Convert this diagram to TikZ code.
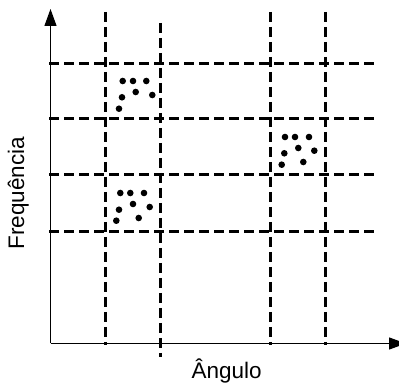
\documentclass[tikz,border=0pt]{standalone}
\usepackage{fontspec}
\setmainfont{Liberation Sans}
\usetikzlibrary{arrows.meta}
\tikzset{
  grade/.style={line width=3pt, dash pattern=on 10pt off 5pt},
  eixo/.style={line width=1.3pt, -{Triangle[length=17pt,width=12pt]}},
  ponto/.style={fill=black}
}
\begin{document}
\begin{tikzpicture}[x=1pt,y=1pt]
  \useasboundingbox (0,0) rectangle (399,383);
  % eixos
  \coordinate (O) at (50.5,39.5);
  \draw[eixo] (O) -- (406,39.5);
  \draw[eixo] (O) -- (50.5,374);
  % linhas tracejadas verticais
  \draw[grade] (105,371) -- (105,38);
  \draw[grade] (160.5,360) -- (160.5,26);
  \draw[grade] (270,371) -- (270,38);
  \draw[grade] (325,371) -- (325,38);
  % linhas tracejadas horizontais
  \foreach \y in {319.7,264,208,151.3}
    \draw[grade] (49.3,\y) -- (376.7,\y);
  % pontos
  \begin{scope}[shift={(122.7,302)}]
    \foreach \px/\py in {0/0,10.3/0,23.6/0,13/-11,29.6/-14,-0.7/-16.3,-3.7/-27.7}
      \fill[ponto] (\px,\py) circle (3.3);
  \end{scope}
  \begin{scope}[shift={(120.3,190)}]
    \foreach \px/\py in {0/0,10/0,23.7/0,12.7/-11,29.4/-14,-1.3/-16.7,-4/-27.7,18.4/-25}
      \fill[ponto] (\px,\py) circle (3.3);
  \end{scope}
  \begin{scope}[shift={(285,246)}]
    \foreach \px/\py in {0/0,10/0,24/0,13.3/-11,29.3/-13.7,-0.7/-16.3,-3.3/-27.7,18.3/-25}
      \fill[ponto] (\px,\py) circle (3.3);
  \end{scope}
  % rotulos
  \node[anchor=base, inner sep=0pt, font=\fontsize{22.5}{27}\selectfont] (angulo) at (226.7,5) {Ângulo};
  \node[anchor=base, rotate=90, inner sep=0pt, font=\fontsize{22.5}{27}\selectfont] (freq) at (24,189.7) {Frequência};
\end{tikzpicture}
\end{document}
